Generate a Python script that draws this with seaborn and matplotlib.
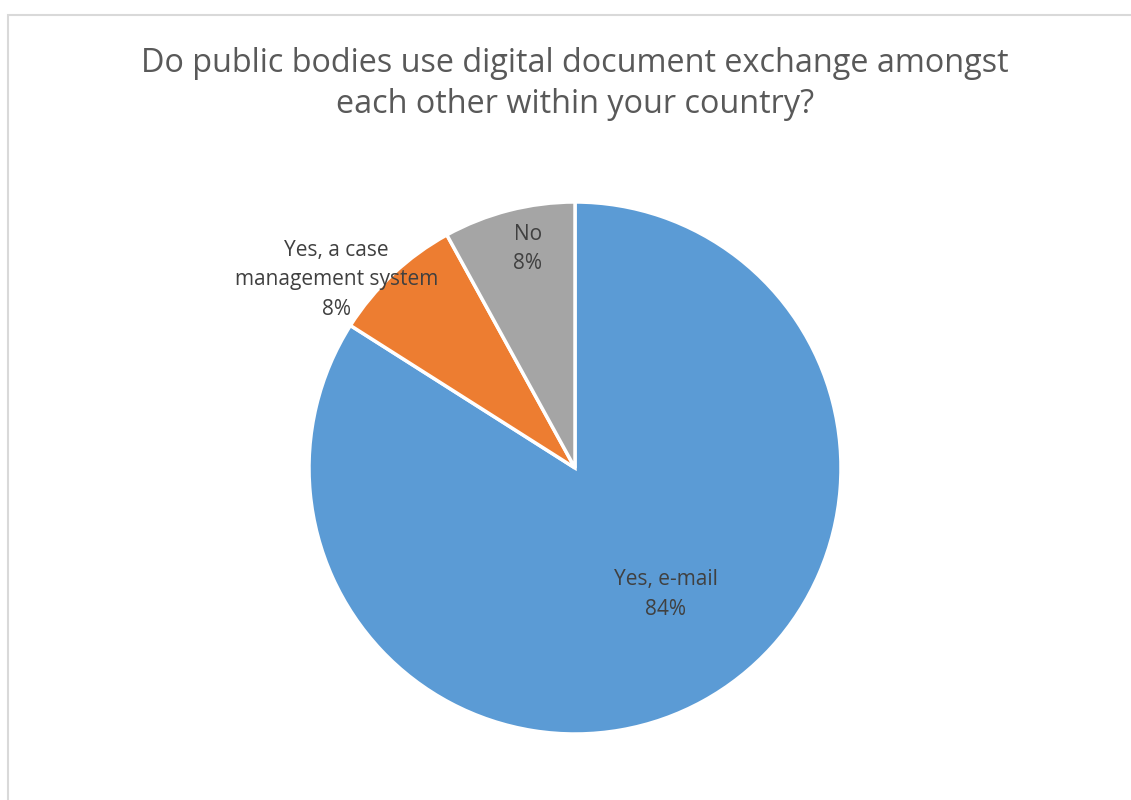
import matplotlib
matplotlib.use("Agg")
import matplotlib.pyplot as plt
from matplotlib.patches import Rectangle
import seaborn as sns

# Survey answers and their shares (percent)
categories = ["Yes, e-mail", "Yes, a case\nmanagement system", "No"]
shares = [84, 8, 8]
colors = ["#5B9BD5", "#ED7D31", "#A5A5A5"]
title = "Do public bodies use digital document exchange amongst\neach other within your country?"

sns.set_style("white")
plt.rcParams["font.family"] = ["Open Sans", "DejaVu Sans"]

W, H = 1131, 800
fig = plt.figure(figsize=(W / 100, H / 100), dpi=100)

# Chart frame (top and left edges visible)
fig.patches.append(Rectangle((7.5 / W, -0.5), 2.0, 1 - 14.5 / H + 0.5,
                             transform=fig.transFigure, fill=False,
                             edgecolor="#D9D9D9", linewidth=1.5))

cx, cy, r = 575, 468, 266
ax = fig.add_axes([(cx - r) / W, (H - cy - r) / H, 2 * r / W, 2 * r / H])

wedges, _ = ax.pie(shares, colors=colors, startangle=90, counterclock=False,
                   radius=1.0,
                   wedgeprops=dict(edgecolor="white", linewidth=2.5))
ax.set_xlim(-1, 1)
ax.set_ylim(-1, 1)
ax.set_aspect("equal")
ax.axis("off")

# Data labels: category name and percentage
label_pos = [(0.342, -0.477), (-0.898, 0.707), (-0.177, 0.823)]
for name, val, (x, y) in zip(categories, shares, label_pos):
    ax.text(x, y, f"{name}\n{val}%", ha="center", va="center",
            fontsize=15, color="#404040", linespacing=1.55)

fig.text(cx / W, 1 - 84 / H, title, ha="center", va="center",
         fontsize=23.3, color="#595959", linespacing=1.3)

fig.savefig("out.png", dpi=100)
